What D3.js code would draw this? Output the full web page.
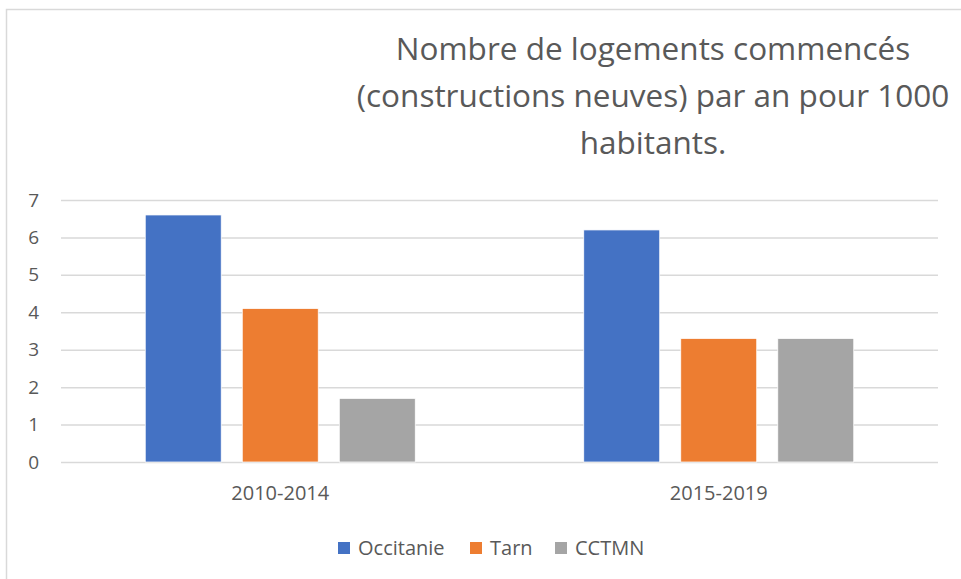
<!DOCTYPE html>
<html>
<head>
<meta charset="utf-8">
<script src="https://cdn.jsdelivr.net/npm/d3@7"></script>
<style>
  body { margin: 0; background: #fff; }
  svg { display: block; font-family: "Open Sans", sans-serif; }
</style>
</head>
<body>
<div id="chart"></div>
<script>
// chart data
const periods = ["2010-2014", "2015-2019"];
const seriesNames = ["Occitanie", "Tarn", "CCTMN"];
const occitanie = [6.6, 6.2];
const tarn = [4.1, 3.3];
const cctmn = [1.7, 3.3];
const yTicks = [0, 1, 2, 3, 4, 5, 6, 7];
const titleLines = ["Nombre de logements commencés", "(constructions neuves) par an pour 1000", "habitants."];

const colors = ["#4472c4", "#ed7d31", "#a5a5a5"];
const W = 961, H = 579;
const plot = { left: 61, right: 938, top: 200, bottom: 462 };

const svg = d3.select("#chart").append("svg")
    .attr("width", W)
    .attr("height", H);

// chart area border (runs off the right / bottom edge)
svg.append("rect")
    .attr("x", 6.5).attr("y", 9.5)
    .attr("width", 1000).attr("height", 600)
    .attr("fill", "#fff")
    .attr("stroke", "#d9d9d9")
    .attr("stroke-width", 1.5);

// title
svg.append("g").selectAll("text")
    .data(titleLines)
    .join("text")
    .attr("x", 653)
    .attr("y", (d, i) => 60 + i * 47)
    .attr("text-anchor", "middle")
    .attr("font-size", 31.5)
    .attr("fill", "#595959")
    .text(d => d);

const x0 = d3.scaleBand().domain(periods).range([plot.left, plot.right]);
const x1 = d3.scaleBand().domain(seriesNames)
    .range([x0.bandwidth() / 2 - 135, x0.bandwidth() / 2 + 135])
    .paddingInner(0.217);
const y = d3.scaleLinear().domain([0, 7]).range([plot.bottom, plot.top]);

// gridlines
svg.append("g").selectAll("line")
    .data(yTicks)
    .join("line")
    .attr("x1", plot.left).attr("x2", plot.right)
    .attr("y1", d => y(d) + 0.5).attr("y2", d => y(d) + 0.5)
    .attr("stroke", "#d9d9d9")
    .attr("stroke-width", 1.5);

// y axis
const yAxis = svg.append("g")
    .attr("transform", `translate(${plot.left - 22},0)`)
    .call(d3.axisLeft(y).tickValues(yTicks).tickFormat(d3.format("d")).tickSize(0).tickPadding(0));
yAxis.select(".domain").remove();
yAxis.attr("font-family", null).attr("font-size", null);
yAxis.selectAll("text")
    .style("font-size", "19px")
    .attr("fill", "#595959");

// x axis
const xAxis = svg.append("g")
    .attr("transform", `translate(0,${plot.bottom})`)
    .call(d3.axisBottom(x0).tickSize(0).tickPadding(24));
xAxis.select(".domain").remove();
xAxis.attr("font-family", null).attr("font-size", null);
xAxis.selectAll("text")
    .style("font-size", "20px")
    .attr("fill", "#595959");

// bars
const rows = periods.map((p, i) => ({
  period: p,
  values: [occitanie[i], tarn[i], cctmn[i]]
}));

svg.append("g").selectAll("g")
    .data(rows)
    .join("g")
    .attr("transform", d => `translate(${x0(d.period)},0)`)
    .selectAll("rect")
    .data(d => d.values.map((v, k) => ({ name: seriesNames[k], value: v, color: colors[k] })))
    .join("rect")
    .attr("x", d => x1(d.name))
    .attr("y", d => y(d.value))
    .attr("width", x1.bandwidth())
    .attr("height", d => y(0) - y(d.value))
    .attr("fill", d => d.color)
    .attr("stroke", "#fff")
    .attr("stroke-width", 0.75);

// legend
const legendX = [338, 470, 555];
const legend = svg.append("g").selectAll("g")
    .data(seriesNames)
    .join("g")
    .attr("transform", (d, i) => `translate(${legendX[i]},542)`);
legend.append("rect")
    .attr("width", 12).attr("height", 12)
    .attr("fill", (d, i) => colors[i]);
legend.append("text")
    .attr("x", 20).attr("y", 13)
    .attr("font-size", 20)
    .attr("fill", "#595959")
    .text(d => d);
</script>
</body>
</html>
